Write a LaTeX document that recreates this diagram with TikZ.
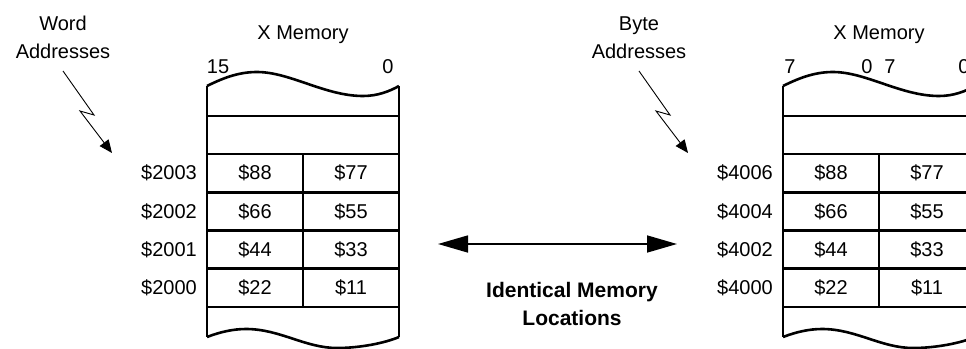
\documentclass[tikz,border=0pt]{standalone}
\usepackage{fontspec}
\setmainfont{Liberation Sans}
\usetikzlibrary{
    positioning,
    arrows.meta
}

\tikzset{
    memline/.style={line width=2.6pt},
    cell/.style={
        draw,
        line width=2.6pt,
        minimum width=96pt,
        minimum height=38.25pt,
        inner sep=0pt,
        outer sep=0pt
    },
    addr/.style={inner sep=0pt},
    bitnum/.style={inner sep=0pt, anchor=base},
    zap/.style={line width=0.9pt, -{Triangle[length=13pt,width=11pt]}},
    same/.style={
        line width=1.6pt,
        {Triangle[length=30pt,width=17pt]}-{Triangle[length=30pt,width=17pt]}
    }
}

\begin{document}
\begin{tikzpicture}[x=1pt, y=-1pt, font=\fontsize{20}{28}\selectfont]

    \useasboundingbox (0,0) rectangle (966,348);
    \clip (0,0) rectangle (966,348);

    % word addressed block
    \draw[memline] (207,86) -- (207,337);
    \draw[memline] (399,86) -- (399,337);
    \draw[memline] (207,116) -- (399,116);
    \draw[memline] (207,86) .. controls (225,77) and (240,72) .. (257,72)
        .. controls (290,72) and (325,96) .. (363,96)
        .. controls (378,96) and (390,91) .. (399,86);
    \draw[memline] (207,337) .. controls (220,332) and (233,329) .. (246,329)
        .. controls (280,329) and (305,348) .. (337,348)
        .. controls (360,348) and (385,343) .. (399,337);

    \node[cell] (w88) at (255,173.1) {\$88};
    \node[cell, right=0pt of w88] (w77) {\$77};
    \node[cell, below=0pt of w88] (w66) {\$66};
    \node[cell, right=0pt of w66] (w55) {\$55};
    \node[cell, below=0pt of w66] (w44) {\$44};
    \node[cell, right=0pt of w44] (w33) {\$33};
    \node[cell, below=0pt of w44] (w22) {\$22};
    \node[cell, right=0pt of w22] (w11) {\$11};

    \node[addr, left=10pt of w88] (w2003) {\$2003};
    \node[addr, left=10pt of w66] (w2002) {\$2002};
    \node[addr, left=10pt of w44] (w2001) {\$2001};
    \node[addr, left=10pt of w22] (w2000) {\$2000};

    \node[bitnum] (wmsb) at (218,73) {15};
    \node[bitnum] (wlsb) at (388,73) {0};
    \node[anchor=base, inner sep=0pt] (wtitle) at (303,39.5) {X Memory};

    \node[anchor=base, align=center, inner sep=0pt] (wordlbl) at (63,58) {Word\\Addresses};
    \coordinate (wzapstart) at (63,71);
    \coordinate (wzaptip) at (112,153);
    \draw[zap] (wzapstart) -- (94,115) -- (80,111) -- (wzaptip);

    % byte addressed block
    \begin{scope}[xshift=576pt]
        \draw[memline] (207,86) -- (207,337);
        \draw[memline] (399,86) -- (399,337);
        \draw[memline] (207,116) -- (399,116);
        \draw[memline] (207,86) .. controls (225,77) and (240,72) .. (257,72)
            .. controls (290,72) and (325,96) .. (363,96)
            .. controls (378,96) and (390,91) .. (399,86);
        \draw[memline] (207,337) .. controls (220,332) and (233,329) .. (246,329)
            .. controls (280,329) and (305,348) .. (337,348)
            .. controls (360,348) and (385,343) .. (399,337);

        \node[cell] (b88) at (255,173.1) {\$88};
        \node[cell, right=0pt of b88] (b77) {\$77};
        \node[cell, below=0pt of b88] (b66) {\$66};
        \node[cell, right=0pt of b66] (b55) {\$55};
        \node[cell, below=0pt of b66] (b44) {\$44};
        \node[cell, right=0pt of b44] (b33) {\$33};
        \node[cell, below=0pt of b44] (b22) {\$22};
        \node[cell, right=0pt of b22] (b11) {\$11};

        \node[addr, left=10pt of b88] (b4006) {\$4006};
        \node[addr, left=10pt of b66] (b4004) {\$4004};
        \node[addr, left=10pt of b44] (b4002) {\$4002};
        \node[addr, left=10pt of b22] (b4000) {\$4000};

        \node[bitnum] (bhimsb) at (214,73) {7};
        \node[bitnum] (bhilsb) at (291,73) {0};
        \node[bitnum] (blomsb) at (314,73) {7};
        \node[bitnum] (blolsb) at (388,73) {0};
        \node[anchor=base, inner sep=0pt] (btitle) at (303,39.5) {X Memory};

        \node[anchor=base, align=center, inner sep=0pt] (bytelbl) at (63,58) {Byte\\Addresses};
        \coordinate (bzapstart) at (63,71);
        \coordinate (bzaptip) at (112,153);
        \draw[zap] (bzapstart) -- (94,115) -- (80,111) -- (bzaptip);
    \end{scope}

    % same locations
    \coordinate (sameleft) at (438,244);
    \coordinate (sameright) at (677,244);
    \draw[same] (sameleft) -- (sameright);
    \node[anchor=base, align=center, inner sep=0pt,
        font=\fontsize{21}{28}\selectfont\bfseries] (samelbl) at (572,325)
        {Identical Memory\\Locations};

\end{tikzpicture}
\end{document}
